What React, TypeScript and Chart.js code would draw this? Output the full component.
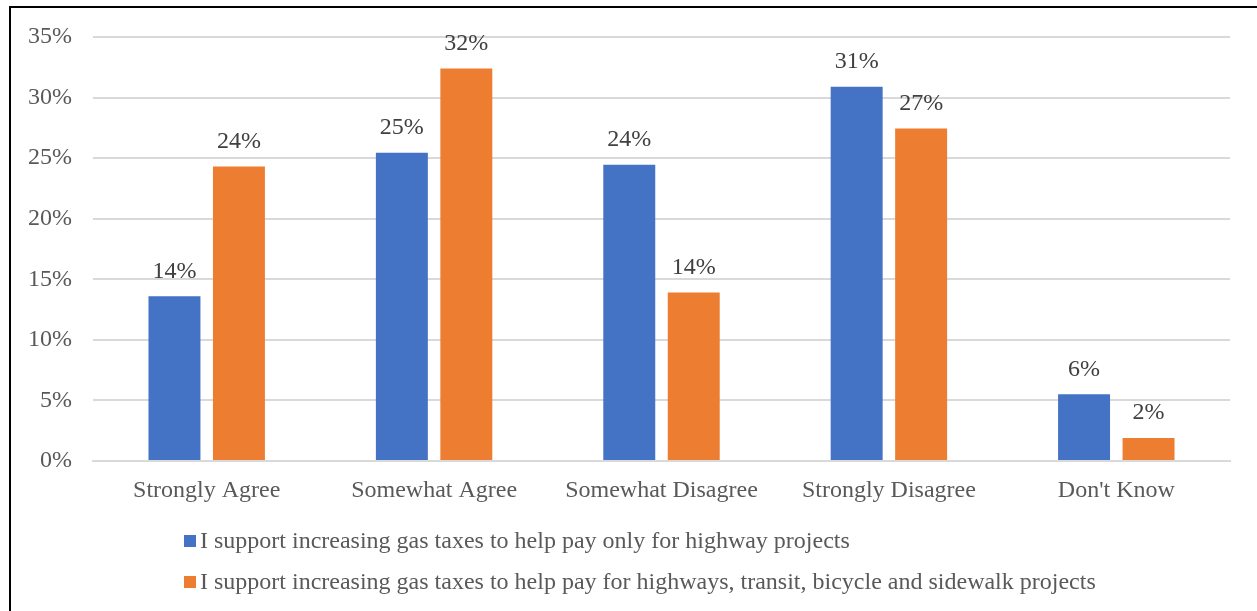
import React, { useEffect, useRef } from "react";
import { Chart, registerables } from "chart.js";

Chart.register(...registerables);

const categories = ["Strongly Agree", "Somewhat Agree", "Somewhat Disagree", "Strongly Disagree", "Don't Know"];
const highwayOnly = [13.6, 25.45, 24.45, 30.9, 5.5];
const multiModal = [24.3, 32.4, 13.9, 27.45, 1.9];
const seriesLabels = [
  "I support increasing gas taxes to help pay only for highway projects",
  "I support increasing gas taxes to help pay for highways, transit, bicycle and sidewalk projects",
];
const seriesColors = ["#4472C4", "#ED7D31"];
const yTicks = [0, 5, 10, 15, 20, 25, 30, 35];

const FONT = "'Liberation Serif', 'Times New Roman', serif";
const TEXT = "#595959";

const labelsPlugin = {
  id: "valueLabels",
  afterDatasetsDraw(chart: any) {
    const ctx = chart.ctx;
    ctx.save();
    ctx.font = `24px ${FONT}`;
    ctx.fillStyle = "#404040";
    ctx.textAlign = "center";
    ctx.textBaseline = "middle";
    chart.data.datasets.forEach((ds: any, i: number) => {
      const meta = chart.getDatasetMeta(i);
      meta.data.forEach((bar: any, j: number) => {
        ctx.fillText(Math.round(ds.data[j]) + "%", bar.x, bar.y - 25);
      });
    });
    ctx.restore();
  },
};

const legendPlugin = {
  id: "customLegend",
  afterDraw(chart: any) {
    const ctx = chart.ctx;
    ctx.save();
    ctx.font = `24px ${FONT}`;
    ctx.textBaseline = "middle";
    ctx.textAlign = "left";
    const rows = [541, 582];
    chart.data.datasets.forEach((ds: any, i: number) => {
      const y = rows[i];
      ctx.fillStyle = ds.backgroundColor;
      ctx.fillRect(184, y - 6, 12, 12);
      ctx.fillStyle = TEXT;
      ctx.fillText(ds.label, 200, y + 1);
    });
    ctx.restore();
  },
};

export default function App() {
  const ref = useRef<HTMLCanvasElement>(null);
  useEffect(() => {
    if (!ref.current) return;
    const chart = new Chart(ref.current, {
      type: "bar",
      data: {
        labels: categories,
        datasets: [
          { label: seriesLabels[0], data: highwayOnly, backgroundColor: seriesColors[0] },
          { label: seriesLabels[1], data: multiModal, backgroundColor: seriesColors[1] },
        ],
      },
      options: {
        responsive: false,
        animation: false,
        layout: { padding: { top: 37, right: 27, left: 0, bottom: 0 } },
        datasets: { bar: { categoryPercentage: 0.567, barPercentage: 0.806 } },
        plugins: { legend: { display: false }, tooltip: { enabled: false } },
        scales: {
          x: {
            grid: { display: false, drawTicks: false },
            border: { color: "#d9d9d9", width: 2 },
            ticks: { color: TEXT, font: { family: FONT, size: 24 }, padding: 15, maxRotation: 0, autoSkip: false },
            afterFit(scale: any) { scale.height = 150; },
          },
          y: {
            min: 0,
            max: 35,
            afterBuildTicks(scale: any) { scale.ticks = yTicks.map((v) => ({ value: v })); },
            grid: { color: "#d9d9d9", lineWidth: 2, drawTicks: false },
            border: { display: false },
            ticks: { color: TEXT, font: { family: FONT, size: 24 }, padding: 21, callback: (v: any) => v + "%" },
            afterFit(scale: any) { scale.width = 93; },
          },
        },
      },
      plugins: [labelsPlugin, legendPlugin],
    });
    return () => chart.destroy();
  }, []);
  return (
    <div style={{ position: "fixed", left: 0, top: 0, width: 1257, height: 611, background: "#fff", overflow: "hidden" }}>
      <canvas ref={ref} width={1257} height={611} style={{ position: "absolute", left: 0, top: 0 }} />
      <div style={{ position: "absolute", left: 9, top: 6, width: 1400, height: 800, borderLeft: "2px solid #000", borderTop: "2px solid #000", pointerEvents: "none" }} />
    </div>
  );
}
